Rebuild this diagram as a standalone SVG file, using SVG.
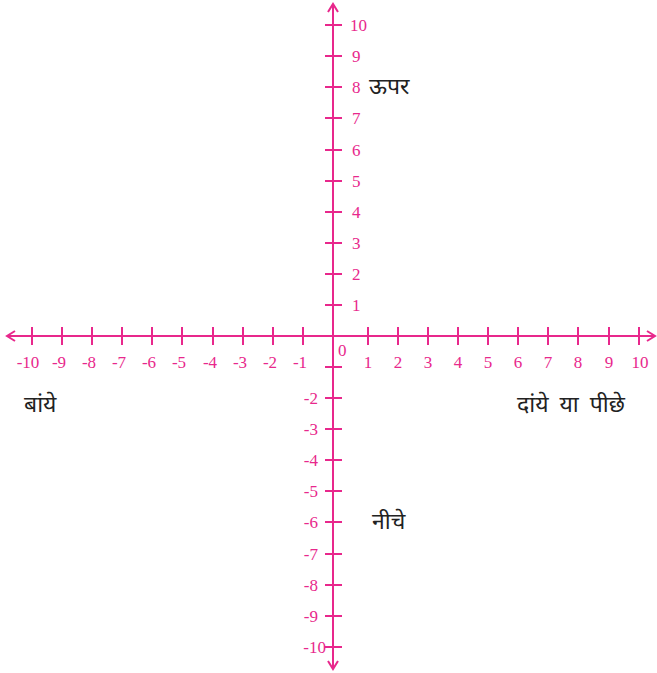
<svg xmlns="http://www.w3.org/2000/svg" width="657" height="673" viewBox="0 0 657 673">
<style>
.ax{stroke:#e8288c;stroke-width:2;fill:none}
.tk{stroke:#e8288c;stroke-width:2}
.n{font-family:"Liberation Serif",serif;font-size:17px;fill:#e8288c}
.h{font-family:"Noto Sans Devanagari","Lohit Devanagari","Noto Sans",sans-serif;font-size:23px;fill:#222}
</style>
<g id="connectors">
<line class="ax" x1="7" y1="336" x2="655" y2="336"/>
<line class="ax" x1="333" y1="4" x2="333" y2="669"/>
<path class="ax" d="M15,331 L7,336 L15,341"/>
<path class="ax" d="M647,331 L655,336 L647,341"/>
<path class="ax" d="M328,12 L333,4 L338,12"/>
<path class="ax" d="M328,661 L333,669 L338,661"/>
</g>
<g id="x-ticks">
<line class="tk" x1="32" y1="327" x2="32" y2="345"/>
<line class="tk" x1="62" y1="327" x2="62" y2="345"/>
<line class="tk" x1="92" y1="327" x2="92" y2="345"/>
<line class="tk" x1="122" y1="327" x2="122" y2="345"/>
<line class="tk" x1="152" y1="327" x2="152" y2="345"/>
<line class="tk" x1="182" y1="327" x2="182" y2="345"/>
<line class="tk" x1="213" y1="327" x2="213" y2="345"/>
<line class="tk" x1="243" y1="327" x2="243" y2="345"/>
<line class="tk" x1="273" y1="327" x2="273" y2="345"/>
<line class="tk" x1="303" y1="327" x2="303" y2="345"/>
<line class="tk" x1="368" y1="327" x2="368" y2="345"/>
<line class="tk" x1="398" y1="327" x2="398" y2="345"/>
<line class="tk" x1="428" y1="327" x2="428" y2="345"/>
<line class="tk" x1="458" y1="327" x2="458" y2="345"/>
<line class="tk" x1="488" y1="327" x2="488" y2="345"/>
<line class="tk" x1="518" y1="327" x2="518" y2="345"/>
<line class="tk" x1="548" y1="327" x2="548" y2="345"/>
<line class="tk" x1="578" y1="327" x2="578" y2="345"/>
<line class="tk" x1="609" y1="327" x2="609" y2="345"/>
<line class="tk" x1="639" y1="327" x2="639" y2="345"/>
</g>
<g id="y-ticks">
<line class="tk" x1="325" y1="25" x2="342" y2="25"/>
<line class="tk" x1="325" y1="56" x2="342" y2="56"/>
<line class="tk" x1="325" y1="87" x2="342" y2="87"/>
<line class="tk" x1="325" y1="118" x2="342" y2="118"/>
<line class="tk" x1="325" y1="150" x2="342" y2="150"/>
<line class="tk" x1="325" y1="181" x2="342" y2="181"/>
<line class="tk" x1="325" y1="212" x2="342" y2="212"/>
<line class="tk" x1="325" y1="243" x2="342" y2="243"/>
<line class="tk" x1="325" y1="274" x2="342" y2="274"/>
<line class="tk" x1="325" y1="305" x2="342" y2="305"/>
<line class="tk" x1="325" y1="367" x2="342" y2="367"/>
<line class="tk" x1="325" y1="398" x2="342" y2="398"/>
<line class="tk" x1="325" y1="429" x2="342" y2="429"/>
<line class="tk" x1="325" y1="460" x2="342" y2="460"/>
<line class="tk" x1="325" y1="491" x2="342" y2="491"/>
<line class="tk" x1="325" y1="522" x2="342" y2="522"/>
<line class="tk" x1="325" y1="554" x2="342" y2="554"/>
<line class="tk" x1="325" y1="585" x2="342" y2="585"/>
<line class="tk" x1="325" y1="616" x2="342" y2="616"/>
<line class="tk" x1="325" y1="647" x2="342" y2="647"/>
</g>
<g id="x-labels" class="n" text-anchor="middle">
<text x="28" y="368">-10</text>
<text x="59" y="368">-9</text>
<text x="89" y="368">-8</text>
<text x="119" y="368">-7</text>
<text x="149" y="368">-6</text>
<text x="179" y="368">-5</text>
<text x="210" y="368">-4</text>
<text x="240" y="368">-3</text>
<text x="270" y="368">-2</text>
<text x="300" y="368">-1</text>
<text x="368" y="368">1</text>
<text x="398" y="368">2</text>
<text x="428" y="368">3</text>
<text x="458" y="368">4</text>
<text x="488" y="368">5</text>
<text x="518" y="368">6</text>
<text x="548" y="368">7</text>
<text x="578" y="368">8</text>
<text x="609" y="368">9</text>
<text x="640" y="368">10</text>
</g>
<g id="origin"><text class="n" x="338" y="356">0</text></g>
<g id="y-labels-pos" class="n">
<text x="350" y="31">10</text>
<text x="352" y="62">9</text>
<text x="352" y="93">8</text>
<text x="352" y="124">7</text>
<text x="352" y="156">6</text>
<text x="352" y="187">5</text>
<text x="352" y="218">4</text>
<text x="352" y="249">3</text>
<text x="352" y="280">2</text>
<text x="352" y="311">1</text>
</g>
<g id="y-labels-neg" class="n" text-anchor="end">
<text x="318" y="404">-2</text>
<text x="318" y="435">-3</text>
<text x="318" y="466">-4</text>
<text x="318" y="497">-5</text>
<text x="318" y="528">-6</text>
<text x="318" y="560">-7</text>
<text x="318" y="591">-8</text>
<text x="318" y="622">-9</text>
<text x="326" y="653">-10</text>
</g>
<g id="label-up"><text class="h" x="369" y="94">ऊपर</text></g>
<g id="label-left"><text class="h" x="24" y="412">बांये</text></g>
<g id="label-right"><text class="h" x="517" y="412" word-spacing="5">दांये या पीछे</text></g>
<g id="label-down"><text class="h" x="372" y="529">नीचे</text></g>
</svg>
